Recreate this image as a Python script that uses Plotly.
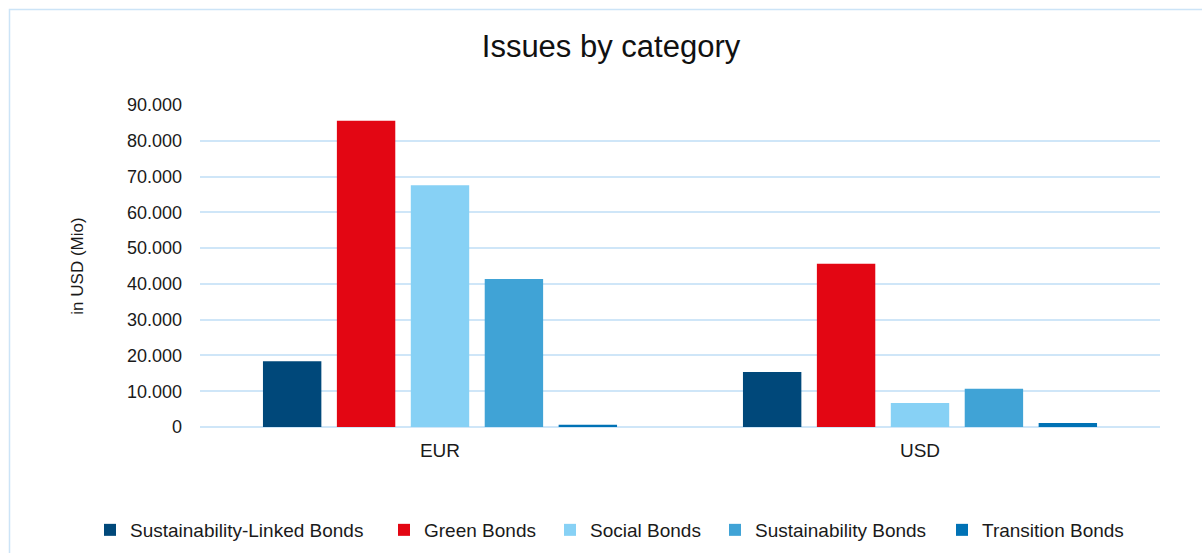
import plotly.graph_objects as go

categories = ["EUR", "USD"]
series_names = ["Sustainability-Linked Bonds", "Green Bonds", "Social Bonds",
                "Sustainability Bonds", "Transition Bonds"]
slb = [18400, 15400]
green = [85600, 45600]
social = [67600, 6700]
sustainability = [41400, 10700]
transition = [600, 1100]
colors = ["#00487A", "#E30613", "#87D1F5", "#40A3D6", "#0072B5"]
legend_widths = [249, 121, 120, 182, 150]

values = [slb, green, social, sustainability, transition]

fig = go.Figure()
for name, vals, col, lw in zip(series_names, values, colors, legend_widths):
    fig.add_trace(go.Bar(x=categories, y=vals, name=name, legendwidth=lw,
                         marker=dict(color=col, line=dict(width=0))))

W, H = 1202, 553
L, R, T, B = 200, 42, 105, 126
pw = W - L - R
ph = H - T - B

def px_x(p):
    return (p - L) / pw

def px_y(p):
    return (H - B - p) / ph

fig.update_layout(
    width=W, height=H,
    margin=dict(l=L, r=R, t=T, b=B, pad=0, autoexpand=False),
    paper_bgcolor="white", plot_bgcolor="white",
    font=dict(family="Liberation Sans, Arial, sans-serif", color="#1a1a1a", size=17),
    separators=",.",
    barmode="group", bargap=0.23, bargroupgap=0.21,
    title=dict(text="Issues by category", xref="container", x=611 / W, xanchor="center",
               yref="container", y=1 - 46 / H, yanchor="middle",
               font=dict(size=31, color="#111111")),
    showlegend=True,
    legend=dict(orientation="h", xref="paper", x=px_x(90), xanchor="left",
                yref="paper", y=px_y(530), yanchor="middle",
                font=dict(size=19, color="#1a1a1a"), traceorder="normal", itemwidth=30),
    xaxis=dict(showgrid=False, showline=False, zeroline=False, ticks="",
               tickfont=dict(size=19), ticklabelstandoff=10),
    yaxis=dict(range=[0, 90000], dtick=10000, tickformat=",.0f", showgrid=True,
               gridcolor="#CFE6F8", gridwidth=1.5, zeroline=True, zerolinecolor="#CFE6F8",
               zerolinewidth=1.5, showline=False, ticks="", tickfont=dict(size=18),
               ticklabelstandoff=17,
               title=dict(text="in USD (Mio)", font=dict(size=17), standoff=38)),
    shapes=[dict(type="rect", xref="paper", yref="paper",
                 x0=px_x(9.5), x1=px_x(1215), y0=px_y(9.5), y1=px_y(570),
                 line=dict(color="#CCE4F7", width=1.5), fillcolor="rgba(0,0,0,0)", layer="below")],
)

fig.write_html("out.html")
